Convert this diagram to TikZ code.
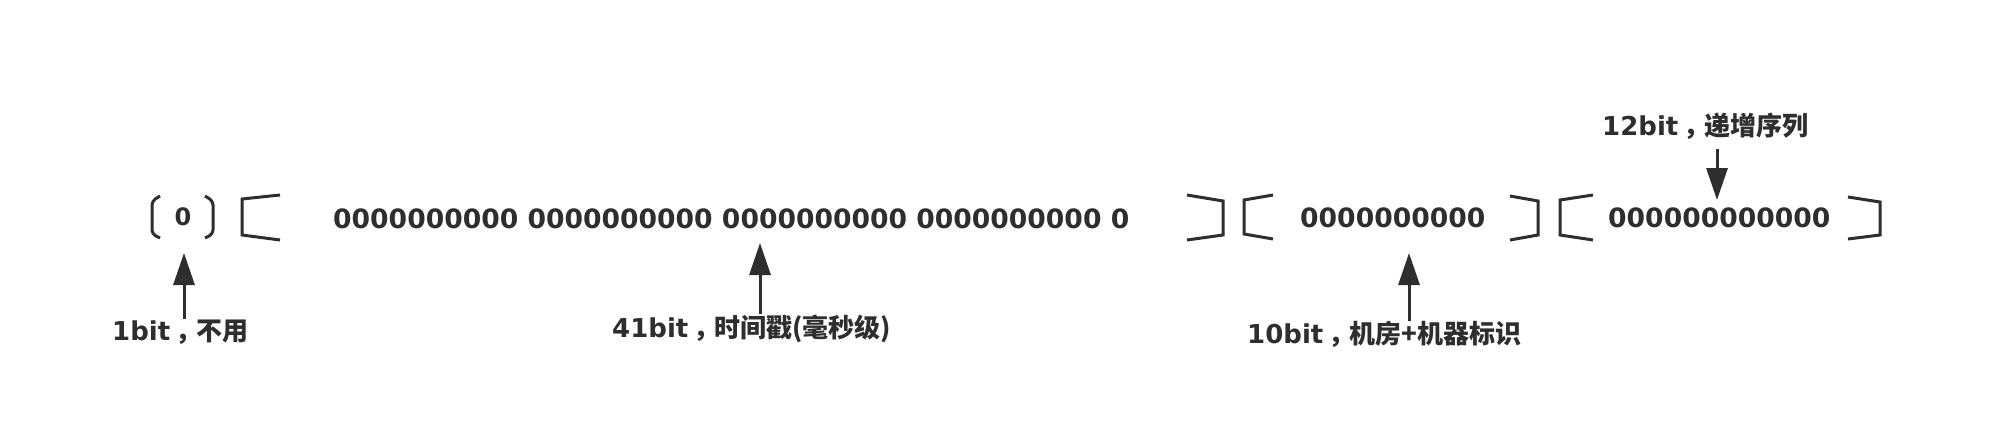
\documentclass[tikz,border=0pt]{standalone}
\usepackage{fontspec}
\setmainfont{DejaVu Sans}
\newfontfamily\cjk{Noto Sans CJK SC}
\usetikzlibrary{arrows.meta}
\definecolor{ink}{HTML}{2E2E2E}
\newcommand{\cm}{\hspace{0.2em}{\cjk ，}\hspace{-0.2em}}
\begin{document}
\begin{tikzpicture}[x=1pt,y=-1pt,
  bits/.style={inner sep=0pt,anchor=base west,text=ink,font=\fontsize{26.6}{30}\selectfont\bfseries},
  lbl/.style={inner sep=0pt,anchor=base west,text=ink,font=\fontsize{26}{30}\selectfont\bfseries},
  brk/.style={draw=ink,line width=3pt,line join=miter},
  sbrk/.style={draw=ink,line width=3pt,rounded corners=4pt},
  arr/.style={draw=ink,line width=3pt,-{Triangle[width=21pt,length=32pt]}}]
\useasboundingbox[fill=white] (0,0) rectangle (2000,426);

% bit fields
\node[inner sep=0pt,text=ink,font=\fontsize{24}{28}\selectfont\bfseries] (b0) at (183,217) {0};
\node[bits] (b41) at (333,228) {0000000000 0000000000 0000000000 0000000000 0};
\node[bits] (b10) at (1300,227) {0000000000};
\node[bits] (b12) at (1608,227) {000000000000};

% brackets
\draw[sbrk] (160,196) -- (152,201) -- (152,234) -- (160,238);
\draw[sbrk] (205,196) -- (213,201) -- (213,234) -- (205,238);
\draw[brk] (280,195) -- (242,199) -- (242,235) -- (280,240);
\draw[brk] (1187,195) -- (1223,201) -- (1223,235) -- (1187,240);
\draw[brk] (1273,195) -- (1244,200) -- (1244,234) -- (1273,239);
\draw[brk] (1510,196) -- (1538,201) -- (1538,235) -- (1510,240);
\draw[brk] (1593,195) -- (1560,200) -- (1560,235) -- (1593,240);
\draw[brk] (1848,197) -- (1880,202) -- (1880,235) -- (1848,239);

% labels
\node[lbl] (l1) at (112,340) {1bit\cm{\cjk 不用}};
\node[lbl] (l41) at (612,337) {41bit\cm{\cjk 时间戳(毫秒级)}};
\node[lbl] (l10) at (1247,343) {10bit\cm{\cjk 机房+机器标识}};
\node[lbl] (l12) at (1602,135) {12bit\cm{\cjk 递增序列}};

% arrow tips
\coordinate (t1) at (184,253);
\coordinate (t41) at (760,243);
\coordinate (t10) at (1409,253);
\coordinate (t12) at (1717,200);

\draw[arr] (l1.north -| t1) -- (t1);
\draw[arr] (l41.north -| t41) -- (t41);
\draw[arr] (l10.north -| t10) -- (t10);
\draw[arr] ([yshift=-10pt]l12.south -| t12) -- (t12);
\end{tikzpicture}
\end{document}
